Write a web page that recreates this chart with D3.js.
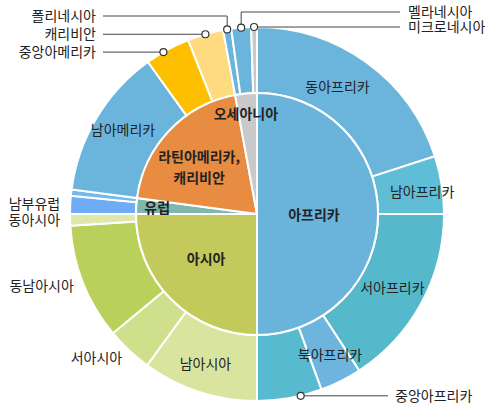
<!DOCTYPE html>
<html>
<head>
<meta charset="utf-8">
<script src="https://cdn.jsdelivr.net/npm/d3@7"></script>
<style>
  html, body { margin: 0; padding: 0; background: #fff; }
  svg { display: block; font-family: "Noto Sans CJK KR", "Noto Sans", sans-serif; }
</style>
</head>
<body>
<div id="chart"></div>
<script>
// regions (inner pie), clockwise from 12 o'clock
var regions = ['아프리카', '아시아', '유럽', '라틴아메리카,\n캐리비안', '오세아니아'];
var regionColors = ['#6ab4dc', '#c3c95b', '#7fb6ae', '#e88c42', '#c9c9c9'];

// subregions (outer ring), same order
var subNames = [
  '동아프리카', '남아프리카', '서아프리카', '북아프리카', '중앙아프리카',
  '남아시아', '서아시아', '동남아시아', '동아시아',
  '남부유럽', '기타유럽',
  '남아메리카', '중앙아메리카', '캐리비안',
  '폴리네시아', '멜라네시아', '미크로네시아'
];
var subParent = [0, 0, 0, 0, 0, 1, 1, 1, 1, 2, 2, 3, 3, 3, 4, 4, 4];
var subValues = [
  20.0, 5.0, 15.8, 3.6, 5.6,
  10.0, 4.0, 10.0, 1.0,
  1.55, 0.55,
  13.0, 3.9, 3.1,
  0.7, 1.7, 0.5
];
var subColors = [
  '#6bb5dd', '#5fbdd5', '#55b9cb', '#6db4de', '#58bace',
  '#d9e59f', '#cfdf8c', '#b9d05a', '#dfe8aa',
  '#6eacf3', '#74b8ee',
  '#6bb5dd', '#fdbf00', '#fedb80',
  '#6bb5dd', '#6bb5dd', '#c9c9c9'
];

var regionValues = regions.map(function(r, i) {
  return d3.sum(subValues.filter(function(v, j) { return subParent[j] === i; }));
});

var width = 485, height = 405;
var cx = 257, cy = 214;
var rInner = 121, rOuter = 187;
var fontSize = 14;

var svg = d3.select('#chart').append('svg')
  .attr('width', width).attr('height', height);
var g = svg.append('g').attr('transform', 'translate(' + cx + ',' + cy + ')');

var pie = d3.pie().sort(null).value(function(d) { return d; });
var innerArcs = pie(regionValues);
var outerArcs = pie(subValues);

var arcInner = d3.arc().innerRadius(0).outerRadius(rInner);
var arcOuter = d3.arc().innerRadius(rInner).outerRadius(rOuter);

g.selectAll('path.outer').data(outerArcs).enter().append('path')
  .attr('class', 'outer')
  .attr('d', arcOuter)
  .attr('fill', function(d, i) { return subColors[i]; })
  .attr('stroke', '#fff').attr('stroke-width', 2);

g.selectAll('path.inner').data(innerArcs).enter().append('path')
  .attr('class', 'inner')
  .attr('d', arcInner)
  .attr('fill', function(d, i) { return regionColors[i]; })
  .attr('stroke', '#fff').attr('stroke-width', 2);

function mid(d) { return (d.startAngle + d.endAngle) / 2; }
function polar(a, r) { return [Math.sin(a) * r, -Math.cos(a) * r]; }

// inner labels: [radius, dx, dy]
var innerLabelPos = [[60, -3, 1], [62, -7, 1], [100, 0, 1], [62, -13, -3.5], [100, -2, 0]];
innerArcs.forEach(function(d, i) {
  var p = polar(mid(d), innerLabelPos[i][0]);
  var lines = regions[i].split('\n');
  var t = g.append('text')
    .attr('text-anchor', 'middle')
    .attr('font-size', fontSize).attr('font-weight', 'bold').attr('fill', '#222');
  lines.forEach(function(l, k) {
    t.append('tspan')
      .attr('x', p[0] + innerLabelPos[i][1])
      .attr('y', p[1] + innerLabelPos[i][2] + (k - (lines.length - 1) / 2) * 21)
      .attr('dy', '0.35em')
      .text(l);
  });
});

// outer ring labels placed inside the ring: name -> [dx, dy]
var ringLabels = {
  '동아프리카': [-10, -2], '남아프리카': [13, 2], '서아프리카': [0, 1],
  '북아프리카': [4, 3], '남아시아': [-4, 4], '남아메리카': [-2, -5]
};
// labels just outside the ring, right-aligned
var sideLabels = ['서아시아', '동남아시아', '동아시아', '남부유럽'];
// labels with leader lines: [elbowY or null, lineEndX, textX, side, position in wedge]
var leaders = {
  '중앙아메리카': [null, 103, 96, 'left', 0.4],
  '캐리비안': [null, 103, 96, 'left', 0.5],
  '폴리네시아': [16, 103, 96, 'left', 0.5],
  '멜라네시아': [12, 400, 408, 'right', 0.5],
  '미크로네시아': [null, 400, 408, 'right', 0.5],
  '중앙아프리카': [null, 388, 395, 'right', 0.33]
};

outerArcs.forEach(function(d, i) {
  var name = subNames[i];
  var a = mid(d);
  if (ringLabels[name]) {
    var c = arcOuter.centroid(d);
    g.append('text')
      .attr('x', c[0] + ringLabels[name][0])
      .attr('y', c[1] + ringLabels[name][1])
      .attr('dy', '0.35em')
      .attr('text-anchor', 'middle')
      .attr('font-size', fontSize).attr('fill', '#222')
      .text(name);
  } else if (sideLabels.indexOf(name) >= 0) {
    var p = polar(a, 197);
    g.append('text')
      .attr('x', p[0]).attr('y', p[1])
      .attr('dy', '0.35em')
      .attr('text-anchor', 'end')
      .attr('font-size', fontSize).attr('fill', '#222')
      .text(name);
  } else if (leaders[name]) {
    var L = leaders[name];
    var ang = d.startAngle + L[4] * (d.endAngle - d.startAngle);
    var dot = polar(ang, rOuter);
    var dx = dot[0] + cx, dy = dot[1] + cy;
    var pts = [[dx, dy]];
    var ty = dy;
    if (L[0] !== null) { pts.push([dx, L[0]]); ty = L[0]; }
    pts.push([L[1], ty]);
    svg.append('path')
      .attr('d', d3.line()(pts))
      .attr('fill', 'none').attr('stroke', '#444').attr('stroke-width', 1);
    svg.append('circle')
      .attr('cx', dx).attr('cy', dy).attr('r', 3.5)
      .attr('fill', '#fff').attr('stroke', '#333').attr('stroke-width', 1.2);
    svg.append('text')
      .attr('x', L[2]).attr('y', ty)
      .attr('dy', '0.35em')
      .attr('text-anchor', L[3] === 'left' ? 'end' : 'start')
      .attr('font-size', fontSize).attr('fill', '#222')
      .text(name);
  }
});
</script>
</body>
</html>
